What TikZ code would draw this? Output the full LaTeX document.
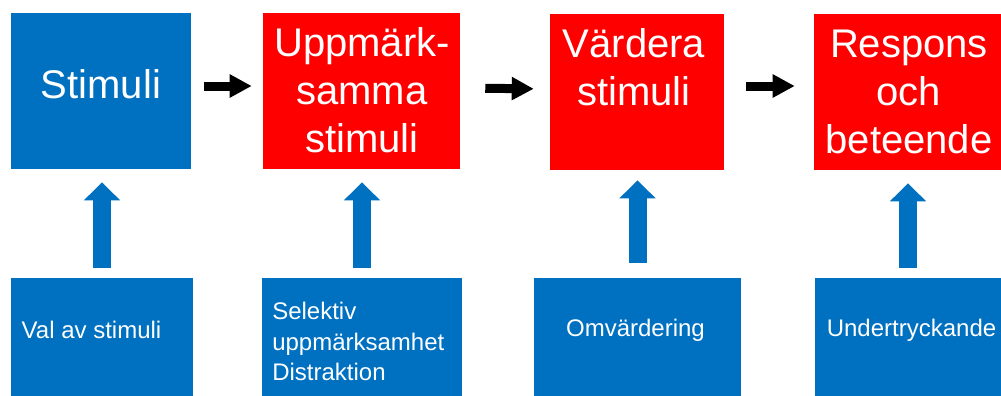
\documentclass[tikz,border=0pt]{standalone}
\usepackage{fontspec}
\setmainfont{Liberation Sans}
\usetikzlibrary{arrows.meta,positioning}
\definecolor{boxblue}{HTML}{0070C0}
\definecolor{boxred}{HTML}{FF0000}

\begin{document}
\begin{tikzpicture}
		[x=0.75pt,y=-0.75pt,
		top box/.style={draw=none,fill=boxred,minimum height=117pt,inner sep=0pt},
		bottom box/.style={draw=none,fill=boxblue,minimum height=88.5pt,inner sep=0pt},
		big text/.style={text=white,align=center,inner sep=0pt,font=\fontsize{30}{36}\selectfont},
		small text/.style={text=white,align=left,inner sep=0pt,font=\fontsize{18}{22.9}\selectfont},
		flow arrow/.style={line width=6.75pt,-{Triangle[length=16.5pt,width=16.5pt]}},
		up arrow/.style={draw=boxblue,line width=13.5pt,-{Triangle[length=13.5pt,width=26.25pt]},shorten <=10*0.75pt,shorten >=13*0.75pt}]
		\useasboundingbox (0,0) rectangle (1001,396);
		
		% top row
		\node[top box,fill=boxblue,minimum width=135pt] (T1) at (101,91) {};
		\node[top box,minimum width=147.75pt] (T2) at (361.5,91) {};
		\node[top box,minimum width=130.5pt] (T3) at (637,92) {};
		\node[top box,minimum width=140.25pt] (T4) at (907.5,92) {};
		
		\node[big text] (t1) at (101,84.5) {Stimuli};
		\node[big text] (t2) at (362,90.5) {Uppmärk-\\samma\\stimuli};
		\node[big text] (t3) at (634,67.5) {Värdera\\stimuli};
		\node[big text] (t4) at (909,91.7) {Respons\\och\\beteende};
		
		% bottom row
		\node[bottom box,minimum width=136.5pt] (B1) at (102,337) {};
		\node[bottom box,minimum width=150pt] (B2) at (362,337) {};
		\node[bottom box,minimum width=155.25pt] (B3) at (637.5,337) {};
		\node[bottom box,minimum width=139.5pt] (B4) at (908,337) {};
		
		\node[small text] (b1) at (91.5,330) {Val av stimuli};
		\node[small text,anchor=west] (b2) at (272,341.5) {Selektiv\\uppmärksamhet\\Distraktion};
		\node[small text] (b3) at (635.5,330) {Omvärdering};
		\node[small text] (b4) at (911.5,330) {Undertryckande};
		
		% arrows
		\draw[flow arrow,shorten <=13*0.75pt,shorten >=11*0.75pt] ([yshift=3.75pt]T1.east) to ([yshift=3.75pt]T2.west);
		\draw[flow arrow,shorten <=25*0.75pt,shorten >=16*0.75pt] ([yshift=2.25pt]T2.east) to ([yshift=2.25pt]T3.west);
		\draw[flow arrow,shorten <=22*0.75pt,shorten >=19*0.75pt] ([yshift=4.5pt]T3.east) to ([yshift=4.5pt]T4.west);
		
		\draw[up arrow] (B1.north) to (B1.north |- T1.south);
		\draw[up arrow] (B2.north) to (B2.north |- T2.south);
		\draw[up arrow,shorten <=15*0.75pt,shorten >=10*0.75pt] (B3.north) to (B3.north |- T3.south);
		\draw[up arrow] (B4.north) to (B4.north |- T4.south);
		\end{tikzpicture}
\end{document}
